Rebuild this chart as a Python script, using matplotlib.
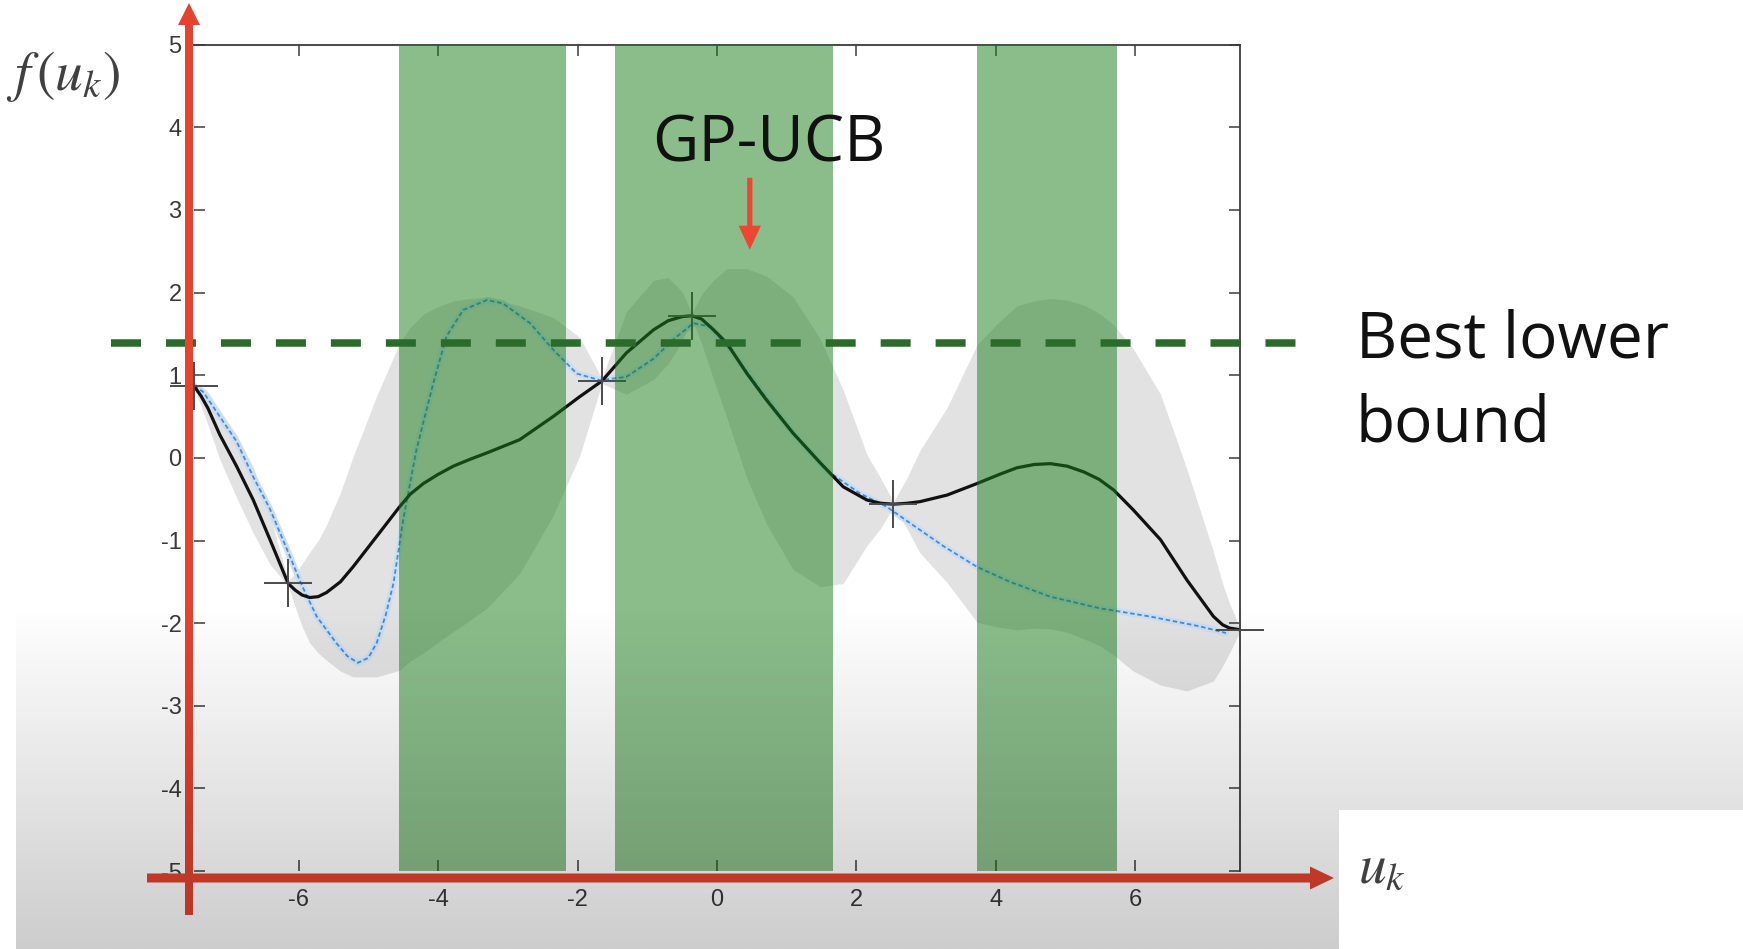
import numpy as np
import matplotlib
matplotlib.use("Agg")
import matplotlib.pyplot as plt
from matplotlib.patches import FancyArrow, Rectangle

# ---------------- data ----------------
obs_x = [-7.5, -6.15, -1.65, -0.36, 2.53, 7.5]
obs_y = [0.87, -1.52, 0.93, 1.72, -0.56, -2.08]

# posterior mean (black) and half-width of the gray confidence band
mean_x = [-7.5, -7.4, -7.3, -7.13, -6.89, -6.65, -6.41, -6.15, -6.05, -5.95, -5.84, -5.72,
          -5.6, -5.4, -5.22, -4.88, -4.55, -4.4, -4.21, -4.0, -3.78, -3.55, -3.3, -2.83,
          -2.35, -1.97, -1.65,
          -1.3, -0.91, -0.7, -0.5, -0.36, -0.22, -0.05, 0.14, 0.43, 0.71, 1.09, 1.48,
          1.81, 2.15, 2.35, 2.53, 2.72, 2.91, 3.3, 3.73, 4.05, 4.3, 4.55, 4.78, 5.02,
          5.26, 5.48, 5.69, 5.97, 6.36, 6.74, 7.12, 7.25, 7.35, 7.5]
mean_y = [0.87, 0.75, 0.6, 0.28, -0.1, -0.51, -0.99, -1.52, -1.6, -1.66, -1.69, -1.68,
          -1.63, -1.5, -1.32, -0.95, -0.59, -0.44, -0.31, -0.2, -0.1, -0.02, 0.06, 0.22,
          0.5, 0.74, 0.93,
          1.27, 1.55, 1.66, 1.71, 1.72, 1.68, 1.55, 1.39, 1.02, 0.7, 0.3, -0.06,
          -0.35, -0.51, -0.55, -0.56, -0.55, -0.53, -0.45, -0.31, -0.2, -0.12, -0.08, -0.07, -0.1,
          -0.17, -0.26, -0.39, -0.63, -0.99, -1.48, -1.92, -2.02, -2.06, -2.08]
half_width = [0.02, 0.12, 0.2, 0.3, 0.38, 0.4, 0.3, 0.03, 0.2, 0.38, 0.55, 0.68,
              0.82, 1.08, 1.33, 1.7, 1.98, 2.02, 2.05, 2.03, 2.0, 1.95, 1.88, 1.62,
              1.2, 0.72, 0.03,
              0.5, 0.6, 0.52, 0.3, 0.03, 0.3, 0.6, 0.9, 1.27, 1.5, 1.65, 1.5,
              1.17, 0.55, 0.3, 0.03, 0.3, 0.62, 1.06, 1.68, 1.85, 1.96, 1.98, 2.0, 2.01,
              2.02, 2.01, 2.0, 1.95, 1.76, 1.34, 0.78, 0.5, 0.3, 0.02]

# true objective (blue dashed)
true_x = [-7.5, -7.37, -7.13, -6.89, -6.65, -6.41, -6.17, -5.95, -5.74, -5.46, -5.3, -5.15,
          -5.0, -4.88, -4.75, -4.64, -4.5, -4.31, -4.07, -3.88, -3.64, -3.3, -3.07, -2.68,
          -2.35, -2.01, -1.68, -1.3, -0.91, -0.63, -0.34, -0.1, 0.23, 0.62, 1.09, 1.57,
          2.05, 2.43, 2.77, 3.25, 3.73, 4.2, 4.78, 5.49, 6.21, 6.93, 7.3]
true_y = [0.87, 0.8, 0.5, 0.2, -0.23, -0.62, -1.1, -1.55, -1.92, -2.24, -2.4, -2.48,
          -2.42, -2.24, -1.9, -1.52, -0.75, 0.1, 0.9, 1.47, 1.79, 1.91, 1.87, 1.63,
          1.31, 1.02, 0.94, 0.98, 1.2, 1.43, 1.63, 1.59, 1.27, 0.82, 0.3, -0.15,
          -0.43, -0.59, -0.79, -1.07, -1.32, -1.5, -1.68, -1.82, -1.92, -2.04, -2.12]

band_lo = [-4.56, -1.46, 3.73]
band_hi = [-2.16, 1.67, 5.73]

best_lower_bound = 1.39
ucb_x = 0.47
ucb_top, ucb_tip = 3.39, 2.52

x_ticks = [-6, -4, -2, 0, 2, 4, 6]
y_ticks = [-5, -4, -3, -2, -1, 0, 1, 2, 3, 4, 5]

# ---------------- figure ----------------
plt.rcParams["axes.unicode_minus"] = False
plt.rcParams["mathtext.fontset"] = "stix"

W, H = 1743, 949
fig = plt.figure(figsize=(W / 100, H / 100), dpi=100, facecolor="white")

ax = fig.add_axes([194 / W, (H - 871) / H, (1240 - 194) / W, (871 - 44.75) / H])
ax.set_xlim(-7.5, 7.5)
ax.set_ylim(-5, 5)
ax.set_facecolor("white")

mx = np.array(mean_x)
my = np.array(mean_y)
hw = np.array(half_width)
ax.fill_between(mx, my - hw, my + hw, color="#e2e2e2", lw=0, zorder=1)

ax.plot(true_x, true_y, color="#c9def2", lw=4.5, solid_capstyle="round", zorder=2)
ax.plot(true_x, true_y, color="#4a8ad0", lw=1.3, dashes=(2.5, 1.5), zorder=3)
ax.plot(mean_x, mean_y, color="#111111", lw=2.3, zorder=4, solid_joinstyle="round")
ax.plot(obs_x, obs_y, linestyle="none", marker="+", ms=35, mew=1.4, color="#4a4a4a",
        clip_on=False, zorder=5)

for lo, hi in zip(band_lo, band_hi):
    ax.axvspan(lo, hi, color="#177d17", alpha=0.5, lw=0, zorder=6)

ax.plot([-8.69, 8.36], [best_lower_bound, best_lower_bound], color="#2a6a2a", lw=5.4,
        dashes=(4, 3.33), clip_on=False, zorder=7, solid_capstyle="butt")

# GP-UCB arrow (data coordinates)
ax.add_patch(FancyArrow(ucb_x, ucb_top, 0, ucb_tip - ucb_top, width=0.075,
                        head_width=0.32, head_length=0.29, length_includes_head=True,
                        color="#f04531", lw=0, zorder=8))

ax.set_xticks(x_ticks)
ax.set_yticks(y_ticks)
ax.set_xticklabels([str(t) for t in x_ticks])
ax.set_yticklabels([str(t) for t in y_ticks])
ax.tick_params(axis="both", direction="in", length=8, width=1.1, color="#3c3c3c",
               top=True, right=True, labelcolor="#3a3a3a", labelsize=17)
ax.tick_params(axis="x", pad=13)
ax.tick_params(axis="y", pad=9)
for lab in ax.get_xticklabels() + ax.get_yticklabels():
    lab.set_family("Liberation Sans")
for s in ["left", "bottom"]:
    ax.spines[s].set_visible(False)
for s in ["top", "right"]:
    ax.spines[s].set_color("#3a3a3a")
    ax.spines[s].set_linewidth(1.3)

# ---------------- overlay in pixel coordinates ----------------
ov = fig.add_axes([0, 0, 1, 1], zorder=5)
ov.axis("off")
ov.patch.set_alpha(0)

red = "#e4432f"
ov.add_patch(FancyArrow(189, 915, 0, -912, width=8, head_width=22, head_length=22,
                        length_includes_head=True, color=red, lw=0, zorder=2))
ov.add_patch(FancyArrow(147, 878, 1187, 0, width=9, head_width=23, head_length=24,
                        length_includes_head=True, color=red, lw=0, zorder=2))

ov.text(769, 161, "GP-UCB", family="Open Sans", fontsize=46, color="#111111",
        ha="center", va="baseline", zorder=3)
ov.text(1356, 357, "Best lower", family="Open Sans", fontsize=46, color="#111111",
        ha="left", va="baseline", zorder=3)
ov.text(1356, 441, "bound", family="Open Sans", fontsize=46, color="#111111",
        ha="left", va="baseline", zorder=3)
ov.text(6, 76, r"$f\,(u_k)$", fontsize=40, color="#404040", ha="left", va="center", zorder=3)

# video-style gray gradient at the bottom
n = 200
grad = np.zeros((n, 1, 4))
grad[:, 0, 3] = np.linspace(0, 0.2, n)
ov.imshow(grad, extent=[16, W, H, 600], aspect="auto", interpolation="bilinear", zorder=4)
ov.set_xlim(0, W)
ov.set_ylim(H, 0)

ov.add_patch(Rectangle((1339, 810), W - 1339, H - 810, color="white", lw=0, zorder=5))
ov.text(1358, 868, r"$u_k$", fontsize=40, color="#404040", ha="left", va="center", zorder=6)

fig.savefig("out.png", dpi=100, facecolor="white")
